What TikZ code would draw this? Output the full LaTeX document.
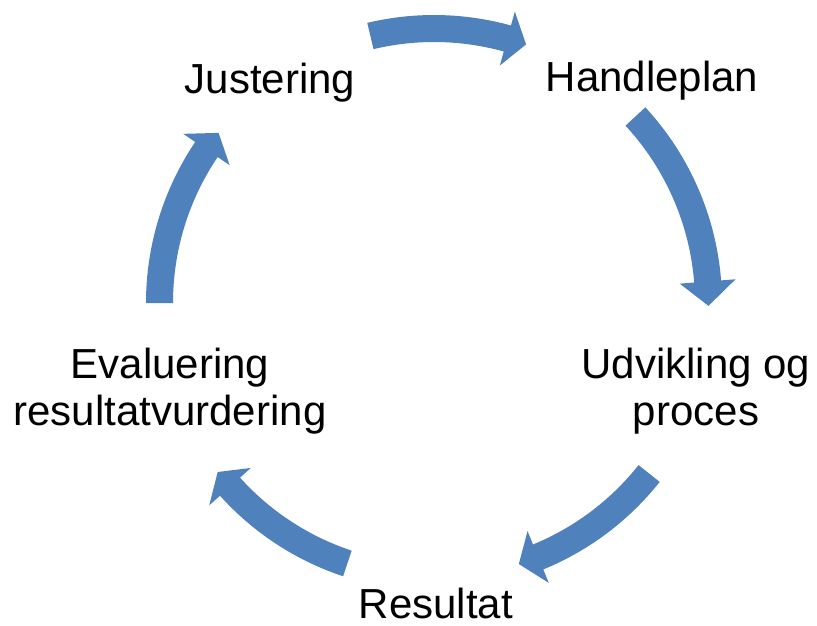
\documentclass[tikz,border=0pt]{standalone}
\usepackage{fontspec}
\setmainfont{Liberation Sans}
\definecolor{cycblue}{RGB}{79,129,189}
\tikzset{
  lbl/.style={anchor=base, inner sep=0pt, align=center, font=\fontsize{42}{47}\selectfont, text=black},
  cycarrow/.style={fill=cycblue, draw=none}
}
% #1 tail angle, #2 head base angle, #3 tip angle
\newcommand{\cycArrow}[3]{%
  \fill[cycarrow] (#1:288) arc[start angle=#1, end angle=#2, radius=288]
    -- (#2:302.5) -- (#3:274.5) -- (#2:246.5) -- (#2:261)
    arc[start angle=#2, end angle=#1, radius=261] -- cycle;}
\begin{document}
\begin{tikzpicture}[x=1pt,y=-1pt]
\useasboundingbox (0,0) rectangle (817,626);
\node[lbl] (just) at (270,93) {Justering};
\node[lbl] (hand) at (652,92) {Handleplan};
\node[lbl] (udv) at (696,425) {Udvikling og\\proces};
\node[lbl] (res) at (436,618) {Resultat};
\node[lbl] (eval) at (170,425) {Evaluering\\resultatvurdering};
\begin{scope}[shift={(434,303)},y=1pt]
\cycArrow{103.4}{74.5}{70.4}
\cycArrow{42.8}{4.5}{-0.6}
\cycArrow{-38.4}{-67.7}{-72}
\cycArrow{251.6}{222}{218}
\cycArrow{180}{146}{141.7}
\end{scope}
\end{tikzpicture}
\end{document}
